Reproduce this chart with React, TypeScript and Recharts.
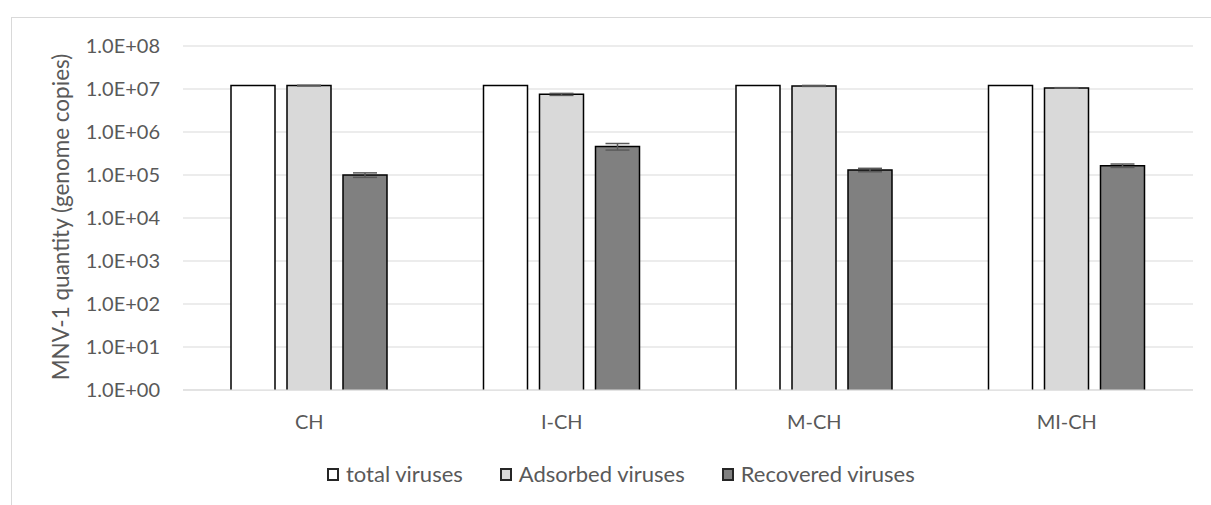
import React from "react";
import { Bar, BarChart, CartesianGrid, ErrorBar, XAxis, YAxis } from "recharts";

const categories = ["CH", "I-CH", "M-CH", "MI-CH"];
const totalViruses = [1.2e7, 1.2e7, 1.2e7, 1.2e7];
const adsorbedViruses = [1.2e7, 7.5e6, 1.18e7, 1.06e7];
const recoveredViruses = [1.0e5, 4.6e5, 1.31e5, 1.65e5];
const totalErr = [0, 0, 0, 0];
const adsorbedErr = [2e5, 4e5, 3e5, 1.5e5];
const recoveredErr = [1.2e4, 8e4, 1.2e4, 1.5e4];
const yTicks = [1, 1e1, 1e2, 1e3, 1e4, 1e5, 1e6, 1e7, 1e8];

const seriesNames = ["total viruses", "Adsorbed viruses", "Recovered viruses"];
const seriesFills = ["#ffffff", "#d9d9d9", "#808080"];

const data = categories.map((name, i) => ({
  name,
  total: totalViruses[i],
  adsorbed: adsorbedViruses[i],
  recovered: recoveredViruses[i],
  totalErr: totalErr[i],
  adsorbedErr: adsorbedErr[i],
  recoveredErr: recoveredErr[i]
}));

const FONT = "Lato, 'Noto Sans', sans-serif";
const TEXT = "#595959";

const fmtTick = (v: number) => {
  const exp = Math.round(Math.log10(v));
  return `1.0E+${String(exp).padStart(2, "0")}`;
};

// bar with outline on left, top and right only (bottom sits on the axis)
function OpenBar(props: any) {
  const { x, y, width, height, fill } = props;
  if (!width || height == null) return null;
  return (
    <g>
      <rect x={x} y={y} width={width} height={height} fill={fill} stroke="none" />
      <path
        d={`M${x},${y + height}V${y}H${x + width}V${y + height}`}
        fill="none"
        stroke="#000"
        strokeWidth={1.5}
      />
    </g>
  );
}

export default function App() {
  return (
    <div
      style={{
        position: "fixed",
        left: 0,
        top: 0,
        width: 1211,
        height: 505,
        overflow: "hidden",
        background: "#fff",
        fontFamily: FONT
      }}
    >
      <div
        style={{
          position: "absolute",
          left: 11,
          top: 17,
          width: 1300,
          height: 600,
          border: "1px solid #d9d9d9"
        }}
      />
      <div style={{ position: "absolute", left: 0, top: 0 }}>
        <BarChart
          width={1211}
          height={505}
          data={data}
          margin={{ top: 46, right: 18, bottom: 85, left: 33 }}
          barCategoryGap={48}
          barGap={12}
          style={{ fontFamily: FONT }}
        >
          <CartesianGrid vertical={false} stroke="#d9d9d9" strokeWidth={1} />
          <XAxis
            dataKey="name"
            height={30}
            tickLine={false}
            tickSize={0}
            tickMargin={25}
            axisLine={{ stroke: "#d9d9d9" }}
            tick={{ fontSize: 20, fill: TEXT, fontFamily: FONT }}
          />
          <YAxis
            scale="log"
            domain={[1, 1e8]}
            ticks={yTicks}
            allowDataOverflow
            width={150}
            tickLine={false}
            axisLine={false}
            tickSize={0}
            tickMargin={23}
            tickFormatter={fmtTick}
            tick={{ fontSize: 20, fill: TEXT, fontFamily: FONT }}
          />
          <Bar dataKey="total" name={seriesNames[0]} fill={seriesFills[0]} shape={OpenBar} isAnimationActive={false}>
            <ErrorBar dataKey="totalErr" width={12} stroke="#595959" strokeWidth={1.5} direction="y" />
          </Bar>
          <Bar dataKey="adsorbed" name={seriesNames[1]} fill={seriesFills[1]} shape={OpenBar} isAnimationActive={false}>
            <ErrorBar dataKey="adsorbedErr" width={12} stroke="#595959" strokeWidth={1.5} direction="y" />
          </Bar>
          <Bar dataKey="recovered" name={seriesNames[2]} fill={seriesFills[2]} shape={OpenBar} isAnimationActive={false}>
            <ErrorBar dataKey="recoveredErr" width={12} stroke="#595959" strokeWidth={1.5} direction="y" />
          </Bar>
        </BarChart>
      </div>
      <div
        style={{
          position: "absolute",
          left: 61,
          top: 217,
          transform: "translate(-50%, -50%) rotate(-90deg)",
          whiteSpace: "nowrap",
          fontSize: 22.5,
          color: TEXT,
          lineHeight: 1
        }}
      >
        MNV-1 quantity (genome copies)
      </div>
      <div
        style={{
          position: "absolute",
          left: 327,
          top: 463,
          display: "flex",
          alignItems: "center",
          gap: 37
        }}
      >
        {seriesNames.map((n, i) => (
          <div key={n} style={{ display: "flex", alignItems: "center" }}>
            <span
              style={{
                width: 12,
                height: 13,
                boxSizing: "border-box",
                border: "2px solid #262626",
                background: seriesFills[i],
                display: "inline-block"
              }}
            />
            <span style={{ marginLeft: 7, fontSize: 22, color: TEXT, lineHeight: "22px" }}>{n}</span>
          </div>
        ))}
      </div>
    </div>
  );
}
